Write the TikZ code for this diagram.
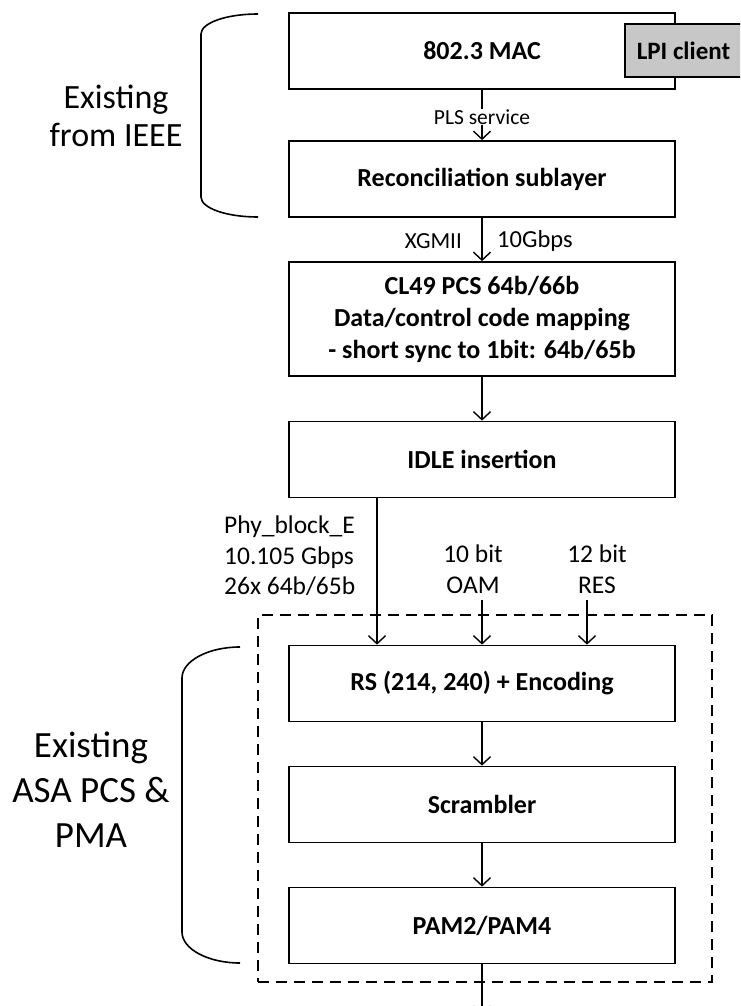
\documentclass[tikz,border=0pt]{standalone}
\usepackage{fontspec}
\setmainfont{Carlito}
\usetikzlibrary{arrows.meta}

\tikzset{
  layer/.style={draw=black, line width=1.7pt, fill=white, minimum width=386pt,
    minimum height=76pt, inner sep=0pt, align=center,
    font=\fontsize{26}{32}\selectfont\bfseries},
  client/.style={draw=black, line width=1.7pt, fill=black!22, minimum width=117pt,
    minimum height=53pt, inner sep=0pt, font=\fontsize{25}{28}\selectfont\bfseries},
  flow/.style={line width=1.4pt, -{Straight Barb[length=8pt,width=17pt,line width=1.4pt]}},
  note/.style={font=\fontsize{23}{30}\selectfont, inner sep=1pt},
  bignote/.style={font=\fontsize{25.5}{30.5}\selectfont, inner sep=0pt, align=center},
  side/.style={font=\fontsize{34}{38}\selectfont, align=center, inner sep=0pt},
  sidebig/.style={font=\fontsize{37}{45}\selectfont, align=center, inner sep=0pt},
  brace/.style={line width=1.6pt},
  group/.style={draw=black, line width=1.7pt, dash pattern=on 11pt off 7pt}
}

\begin{document}
\begin{tikzpicture}[x=1pt,y=-1pt]
  \useasboundingbox (0,0) rectangle (740,1006);
  \clip (0,0) rectangle (740,1006);

  % upper stack, taken over from IEEE 802.3
  \node[layer] (mac) at (482,51) {802.3 MAC};
  \node[client] (lpi) at (683.5,50.5) {LPI client};
  \node[layer] (rs) at (482,179) {Reconciliation sublayer};
  \node[layer, minimum height=114pt] (pcs) at (482,319)
    {CL49 PCS 64b/66b\\Data/control code mapping\\- short sync to 1bit: 64b/65b};
  \node[layer] (idle) at (482,459.5) {IDLE insertion};

  % lower stack, ASA PCS and PMA
  \node[group, minimum width=454pt, minimum height=367pt] (asa) at (485,798.5) {};
  \node[layer] (fec) at (482,683.5) {RS (214, 240) + Encoding};
  \node[layer] (scr) at (482,804.5) {Scrambler};
  \node[layer] (pam) at (482,925.5) {PAM2/PAM4};

  % connectors between the layers
  \draw[flow] (mac.south) -- (rs.north)
    node[midway, note, fill=white, font=\fontsize{21.5}{24}\selectfont, yshift=-2pt] (pls) {PLS service};
  \draw[flow] (rs.south) -- (pcs.north);
  \node[note, anchor=east] (xgmii) at (463,241) {XGMII};
  \node[note, anchor=west, font=\fontsize{24.5}{30}\selectfont] (rate) at (496,241) {10Gbps};
  \draw[flow] (pcs.south) -- (idle.north);

  \draw[flow] ([xshift=-105pt]idle.south) -- ([xshift=-105pt]fec.north);
  \node[bignote, anchor=west, align=left] (phy) at (224,556)
    {Phy\_block\_E\\10.105 Gbps\\26x 64b/65b};

  \coordinate (oamsrc) at (482,600);
  \coordinate (ressrc) at (587,600);
  \node[bignote] (oam) at (473,569) {10 bit\\OAM};
  \node[bignote] (res) at (597,569) {12 bit\\RES};
  \draw[flow] (oamsrc) -- (fec.north);
  \draw[flow] (ressrc) -- ([xshift=105pt]fec.north);

  \draw[flow] (fec.south) -- (scr.north);
  \draw[flow] (scr.south) -- (pam.north);
  \coordinate (out) at (482,1015);
  \draw[flow] (pam.south) -- (out);

  % brackets and their captions
  \draw[brace] (258,14) .. controls (226,14) and (201,23) .. (201,34)
    -- (201,197) .. controls (201,208) and (226,217) .. (258,217);
  \node[side] (ieee) at (116,116) {Existing\\from IEEE};

  \draw[brace] (240,647) .. controls (208,647) and (182,661) .. (182,678)
    -- (182,932) .. controls (182,949) and (208,963) .. (240,963);
  \node[sidebig] (asacap) at (91,790) {Existing\\ASA PCS \&\\PMA};
\end{tikzpicture}
\end{document}
